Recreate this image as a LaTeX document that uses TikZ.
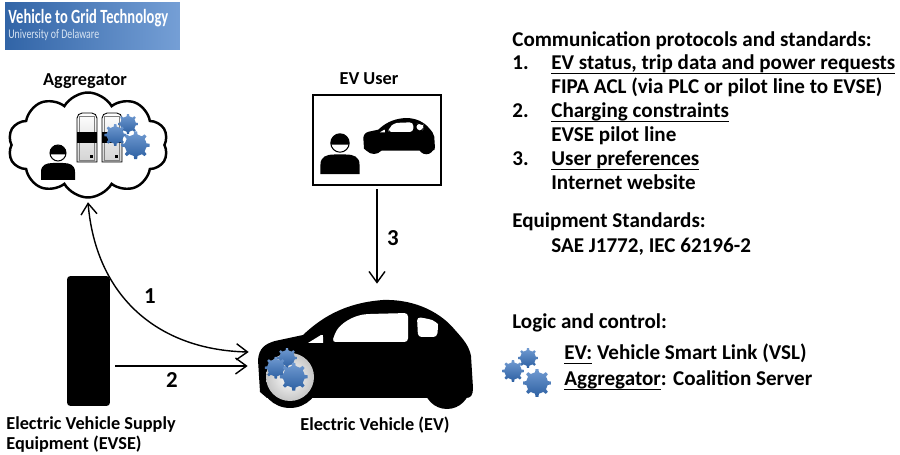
\documentclass[tikz,border=0pt]{standalone}
\usepackage{fontspec}
\setmainfont{Carlito}
\usetikzlibrary{arrows.meta,positioning,calc,shapes.symbols}
\definecolor{fogkek}{RGB}{52,112,190}
\definecolor{fejleckek}{RGB}{58,118,196}
% alahuzas fix melysegben, a szarak athaladnak rajta
\newcommand{\alahuz}[1]{\setbox0\hbox{#1}\rlap{\rule[-2.3pt]{\wd0}{0.75pt}}\box0\relax}
\tikzset{
  cimke/.style={font=\bfseries\fontsize{10.4}{11.5}\selectfont,align=left,inner sep=0pt},
  sor/.style={font=\bfseries\fontsize{12}{14}\selectfont,anchor=base west,inner sep=0pt},
  szam/.style={font=\bfseries\fontsize{13}{15}\selectfont,inner sep=0pt},
  nyil/.style={-{Straight Barb[length=2.2mm,width=3.2mm]},line width=0.8pt},
  kettosnyil/.style={{Straight Barb[length=2.2mm,width=3.2mm]}-{Straight Barb[length=2.2mm,width=3.2mm]},line width=0.8pt},
  % egy fogaskerek, egysegnyi sugarral
  fogaskerek/.pic={
    \shade[top color=fogkek!70!white,bottom color=fogkek!85!black]
      (-22.5:0.78) \foreach \a in {0,45,...,315}{
        -- (\a-10:0.78) -- (\a-6:1) -- (\a+6:1) -- (\a+10:0.78)} -- cycle;
  },
  harom/.pic={
    \pic[scale=10] at (0,0) {fogaskerek};
    \pic[scale=11] at (-15,13) {fogaskerek};
    \pic[scale=14] at (9,25) {fogaskerek};
  },
  ember/.pic={
    \fill (-17,27) -- (-17,19) .. controls (-17,12) and (-12,10) .. (-5,10) -- (5,10)
      .. controls (12,10) and (17,12) .. (17,19) -- (17,27) -- cycle;
    \filldraw[fill=white,line width=0.6pt] (0,0) circle[radius=8];
    \fill (170:8) arc[start angle=170,end angle=370,radius=8] -- cycle;
  },
  szerver/.pic={
    \draw[line width=0.5pt,top color=white,bottom color=gray!35]
      (0,49) [rounded corners=3pt]-- (0,0) -- (20,0) [sharp corners]-- (20,49) -- cycle;
    \draw[line width=0.3pt,gray] (2.5,47) -- (2.5,3) -- (17.5,3) -- (17.5,47) -- cycle;
    \fill (0,19) rectangle (20,30);
    \fill (13,42) rectangle (16,45);
  },
  kocsi/.pic={
    \fill (3,92) -- (1,60) .. controls (2,48) and (8,44) .. (18,41) -- (46,35)
      .. controls (62,20) and (85,3) .. (126,0) .. controls (160,-1) and (185,14) .. (198,30)
      .. controls (207,40) and (212,46) .. (214,56) -- (216,88)
      .. controls (216,95) and (214,98) .. (209,98) -- (10,98) -- cycle;
    \fill (33,78) circle[radius=30];
    \fill (190,86) circle[radius=23];
    \fill[white] (51,43) -- (64,35) .. controls (66,35) .. (66,37) -- (66,43) -- cycle;
    \fill[white,rounded corners=2pt] (75,42) -- (79,31) .. controls (88,20) and (100,15) .. (112,14)
      -- (151,13) -- (151,42) -- cycle;
    \fill[white,rounded corners=2pt] (160,17) -- (172,19) .. controls (178,21) and (181,24) .. (181,28)
      -- (180,37) -- (161,37) -- cycle;
  },
}

\begin{document}
\begin{tikzpicture}[x=0.02cm,y=-0.02cm]
  \useasboundingbox (0,0) rectangle (900,455);

  % fejlec
  \node[left color=fejleckek!85!black,right color=fejleckek!70!white,minimum width=3.5cm,
        minimum height=0.94cm,inner sep=0pt] (fejlec) at (92.5,26.5) {};
  \node[anchor=base west,inner sep=0pt,text=white,font=\bfseries\fontsize{11.5}{12}\selectfont]
    (cim) at (8,24) {\scalebox{0.72}[1]{Vehicle to Grid Technology}};
  \node[anchor=base west,inner sep=0pt,text=white!80!fejleckek,font=\fontsize{7.5}{8}\selectfont]
    (egyetem) at (8,39) {\scalebox{0.75}[1]{University of Delaware}};

  % aggregator felho
  \node[cloud,draw,line width=1.4pt,cloud puffs=10,cloud puff arc=120,aspect=1.55,
        minimum width=3.2cm,minimum height=2.1cm,inner sep=0pt] (aggr) at (88,145) {};
  \node[cimke] (aggrcim) at (85,81) {Aggregator};
  \pic at (77,113) {szerver};
  \pic at (102,113) {szerver};
  \pic[scale=0.85] at (128,124) {harom};
  \pic at (58,153) {ember};

  % EV felhasznalo
  \node[draw,line width=1.3pt,minimum width=2.56cm,minimum height=1.8cm] (user) at (377,140) {};
  \node[cimke] (usercim) at (369,79) {EV User};
  \pic[scale=1.15] at (340,143) {ember};
  \pic[scale=0.333] at (363,118) {kocsi};

  % EVSE
  \node[fill=black,minimum width=0.86cm,minimum height=2.6cm,inner sep=0pt,rounded corners=2pt]
    (evse) at (88.5,341) {};
  \node[cimke,anchor=north west] (evsecim) at (6,416) {Electric Vehicle Supply\\Equipment (EVSE)};

  % elektromos auto
  \node[minimum width=4.32cm,minimum height=2.2cm,inner sep=0pt] (ev) at (365,355) {};
  \pic at (257,300) {kocsi};
  \shade[inner color=white,outer color=gray!45] (290,377) circle[radius=24];
  \pic[scale=0.75] at (287,358) {harom};
  \node[cimke] (evcim) at (375,425) {Electric Vehicle (EV)};

  % kapcsolatok
  \draw[kettosnyil] ([yshift=-2pt]aggr.south) .. controls +(8,95) and +(-90,-2) .. ($(ev.west)+(-8,-3)$);
  \draw[nyil] ($(evse.east)+(5,25)$) -- ($(ev.west)+(-9,11)$);
  \draw[nyil] ($(user.south)+(0,3)$) -- ($(ev.north)+(12,-16)$);
  \node[szam] (n1) at (150,296) {1};
  \node[szam] (n2) at (172,380) {2};
  \node[szam] (n3) at (393,238) {3};

  % szabvanyok
  \node[sor] (s1) at (512,47) {Communication protocols and standards:};
  \node[sor] (s2) at (512,70) {1.};
  \node[sor] (s2b) at (551,70) {\alahuz{EV status, trip data and power requests}};
  \node[sor] (s3) at (551,94) {FIPA ACL (via PLC or pilot line to EVSE)};
  \node[sor] (s4) at (512,118) {2.};
  \node[sor] (s4b) at (551,118) {\alahuz{Charging constraints}};
  \node[sor] (s5) at (551,142) {EVSE pilot line};
  \node[sor] (s6) at (512,166) {3.};
  \node[sor] (s6b) at (551,166) {\alahuz{User preferences}};
  \node[sor] (s7) at (551,190) {Internet website};
  \node[sor] (s8) at (512,228) {Equipment Standards:};
  \node[sor] (s9) at (551,253) {SAE J1772, IEC 62196-2};

  % logika
  \node[sor] (l1) at (512,329) {Logic and control:};
  \pic at (528,358) {harom};
  \node[sor] (l2) at (564,360) {\alahuz{EV:} Vehicle Smart Link (VSL)};
  \node[sor] (l3) at (564,386) {\alahuz{Aggregator}: Coalition Server};
\end{tikzpicture}
\end{document}
